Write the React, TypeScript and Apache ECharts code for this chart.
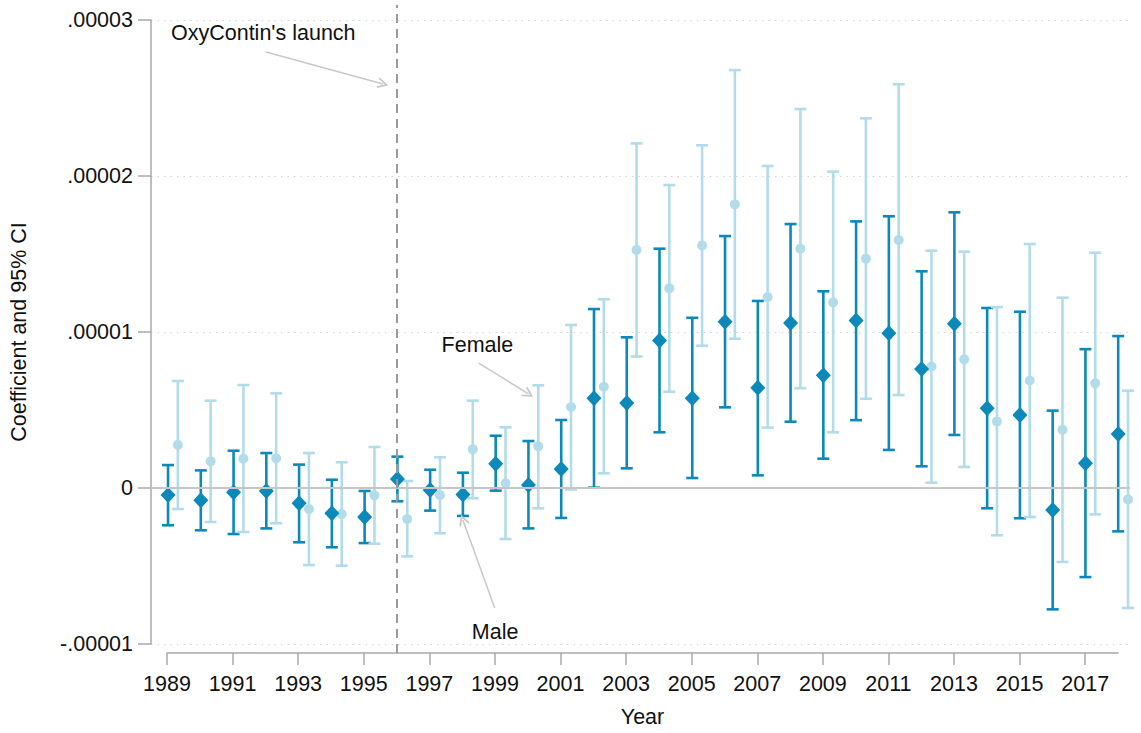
import React, { useEffect, useRef } from "react";
import * as echarts from "echarts";

const YEARS = [1989, 1990, 1991, 1992, 1993, 1994, 1995, 1996, 1997, 1998, 1999, 2000, 2001, 2002, 2003, 2004, 2005, 2006, 2007, 2008, 2009, 2010, 2011, 2012, 2013, 2014, 2015, 2016, 2017, 2018];

const MALE_COEF = [-0.045e-5, -0.079e-5, -0.028e-5, -0.019e-5, -0.098e-5, -0.162e-5, -0.186e-5, 0.058e-5, -0.013e-5, -0.041e-5, 0.156e-5, 0.019e-5, 0.122e-5, 0.575e-5, 0.545e-5, 0.946e-5, 0.575e-5, 1.066e-5, 0.642e-5, 1.058e-5, 0.723e-5, 1.073e-5, 0.992e-5, 0.763e-5, 1.053e-5, 0.511e-5, 0.468e-5, -0.141e-5, 0.158e-5, 0.346e-5];
const MALE_LOW = [-0.239e-5, -0.271e-5, -0.295e-5, -0.259e-5, -0.348e-5, -0.380e-5, -0.353e-5, -0.085e-5, -0.145e-5, -0.179e-5, -0.017e-5, -0.259e-5, -0.192e-5, 0.002e-5, 0.126e-5, 0.357e-5, 0.064e-5, 0.517e-5, 0.081e-5, 0.425e-5, 0.188e-5, 0.435e-5, 0.244e-5, 0.139e-5, 0.340e-5, -0.130e-5, -0.194e-5, -0.778e-5, -0.571e-5, -0.278e-5];
const MALE_HIGH = [0.147e-5, 0.113e-5, 0.239e-5, 0.224e-5, 0.150e-5, 0.053e-5, -0.019e-5, 0.201e-5, 0.117e-5, 0.098e-5, 0.335e-5, 0.301e-5, 0.436e-5, 1.147e-5, 0.966e-5, 1.534e-5, 1.091e-5, 1.615e-5, 1.199e-5, 1.692e-5, 1.261e-5, 1.709e-5, 1.742e-5, 1.389e-5, 1.767e-5, 1.154e-5, 1.130e-5, 0.496e-5, 0.890e-5, 0.974e-5];

const FEMALE_COEF = [0.276e-5, 0.171e-5, 0.188e-5, 0.190e-5, -0.135e-5, -0.167e-5, -0.047e-5, -0.199e-5, -0.046e-5, 0.248e-5, 0.030e-5, 0.267e-5, 0.519e-5, 0.649e-5, 1.526e-5, 1.280e-5, 1.555e-5, 1.818e-5, 1.224e-5, 1.534e-5, 1.190e-5, 1.470e-5, 1.590e-5, 0.779e-5, 0.825e-5, 0.427e-5, 0.689e-5, 0.374e-5, 0.671e-5, -0.073e-5];
const FEMALE_LOW = [-0.135e-5, -0.218e-5, -0.282e-5, -0.226e-5, -0.494e-5, -0.498e-5, -0.357e-5, -0.438e-5, -0.290e-5, -0.066e-5, -0.327e-5, -0.130e-5, -0.009e-5, 0.094e-5, 0.843e-5, 0.617e-5, 0.912e-5, 0.957e-5, 0.387e-5, 0.640e-5, 0.357e-5, 0.572e-5, 0.596e-5, 0.034e-5, 0.135e-5, -0.303e-5, -0.186e-5, -0.474e-5, -0.169e-5, -0.769e-5];
const FEMALE_HIGH = [0.686e-5, 0.560e-5, 0.660e-5, 0.607e-5, 0.224e-5, 0.165e-5, 0.263e-5, 0.045e-5, 0.197e-5, 0.560e-5, 0.389e-5, 0.658e-5, 1.045e-5, 1.210e-5, 2.209e-5, 1.942e-5, 2.197e-5, 2.679e-5, 2.064e-5, 2.429e-5, 2.028e-5, 2.370e-5, 2.588e-5, 1.521e-5, 1.515e-5, 1.160e-5, 1.564e-5, 1.220e-5, 1.508e-5, 0.624e-5];

const FEMALE_OFFSET = 0.3;
const LAUNCH_YEAR = "1996";

const Y_TICK_VALUES = [-0.00001, 0, 0.00001, 0.00002, 0.00003];
const Y_TICK_LABELS = ["-.00001", "0", ".00001", ".00002", ".00003"];
const X_CATEGORIES = YEARS.map(String);

// annotation texts (data coordinates)
const ANNOT_TEXTS = [
  { name: "OxyContin's launch", coord: [1989.09, 2.917e-5] },
  { name: "Female", coord: [1997.35, 0.917e-5] },
  { name: "Male", coord: [1998.27, -0.923e-5] },
];
const ANNOT_ARROWS = [
  [[1991.99, 2.795e-5], [1995.56, 2.59e-5]],
  [[1998.48, 0.801e-5], [2000.0, 0.603e-5]],
  [[1998.97, -0.769e-5], [1998.0, -0.205e-5]],
];

const MALE_COLOR = "#0b89bb";
const FEMALE_COLOR = "#b2dcea";
const AXIS_COLOR = "#a8a8a8";
const TEXT_COLOR = "#111111";
const FONT = "'Liberation Sans', Arial, sans-serif";
const CAP = 6;
const CHEVRON = "path://M5,0L10,9L8.6,9.8L5,3.2L1.4,9.8L0,9Z";

function errorBarRenderer(color: string) {
  return (params: any, api: any) => {
    const x = api.value(0);
    const lo = api.value(1);
    const hi = api.value(2);
    const a = api.coord([x, hi]);
    const b = api.coord([x, lo]);
    const style = { stroke: color, lineWidth: 2.6, fill: null };
    return {
      type: "group",
      children: [
        { type: "line", shape: { x1: a[0], y1: a[1], x2: b[0], y2: b[1] }, style },
        { type: "line", shape: { x1: a[0] - CAP, y1: a[1], x2: a[0] + CAP, y2: a[1] }, style },
        { type: "line", shape: { x1: b[0] - CAP, y1: b[1], x2: b[0] + CAP, y2: b[1] }, style },
      ],
    };
  };
}

export default function App() {
  const ref = useRef<HTMLDivElement>(null);
  useEffect(() => {
    if (!ref.current) return;
    const chart = echarts.init(ref.current, null, { renderer: "svg" });
    const yFormatter = (v: number) => {
      const i = Y_TICK_VALUES.findIndex((t) => Math.abs(t - v) < 1e-10);
      return i >= 0 ? Y_TICK_LABELS[i] : "";
    };
    const option: any = {
      animation: false,
      backgroundColor: "#ffffff",
      textStyle: { fontFamily: FONT },
      grid: [
        { left: 150, right: 11, top: 20, bottom: 89 },
        { left: 167, right: 23, top: 5, bottom: 72 },
      ],
      xAxis: [
        { gridIndex: 0, type: "value", min: 1988.48, max: 2018.36, show: false },
        {
          gridIndex: 1,
          type: "category",
          data: X_CATEGORIES,
          boundaryGap: false,
          axisLine: { show: true, lineStyle: { color: AXIS_COLOR, width: 1.5 } },
          axisTick: { show: true, interval: 1, length: 12, lineStyle: { color: AXIS_COLOR, width: 1.5 } },
          axisLabel: { interval: 1, margin: 20, fontSize: 21.5, color: TEXT_COLOR, fontFamily: FONT },
          splitLine: { show: false },
          name: "Year",
          nameLocation: "middle",
          nameGap: 53,
          nameTextStyle: { fontSize: 21.5, color: TEXT_COLOR, fontFamily: FONT },
        },
      ],
      yAxis: [
        {
          gridIndex: 0,
          type: "value",
          min: -0.00001,
          max: 0.00003,
          interval: 0.00001,
          axisLine: { show: true, lineStyle: { color: AXIS_COLOR, width: 1.5 } },
          axisTick: { show: true, length: 13, lineStyle: { color: AXIS_COLOR, width: 1.5 } },
          axisLabel: { formatter: yFormatter, fontSize: 21.5, margin: 18, color: TEXT_COLOR, fontFamily: FONT },
          splitLine: { show: true, lineStyle: { type: [1.5, 5], color: "#d2d2d2", width: 1.2 } },
          name: "Coefficient and 95% CI",
          nameLocation: "middle",
          nameGap: 121,
          nameTextStyle: { fontSize: 21.5, color: TEXT_COLOR, fontFamily: FONT },
        },
        { gridIndex: 1, type: "value", min: 0, max: 1, show: false },
      ],
      series: [
        {
          type: "line",
          xAxisIndex: 0,
          yAxisIndex: 0,
          data: [],
          z: 1,
          markLine: {
            silent: true,
            symbol: "none",
            label: { show: false },
            lineStyle: { color: "#c6c6c6", type: "solid", width: 2 },
            data: [{ yAxis: 0 }],
          },
        },
        {
          type: "line",
          xAxisIndex: 1,
          yAxisIndex: 1,
          data: [],
          z: 1,
          markLine: {
            silent: true,
            symbol: "none",
            label: { show: false },
            lineStyle: { color: "#9a9a9a", type: [9, 6], width: 2 },
            data: [{ xAxis: LAUNCH_YEAR }],
          },
        },
        {
          name: "Male CI",
          type: "custom",
          xAxisIndex: 0,
          yAxisIndex: 0,
          z: 2,
          encode: { x: 0, y: [1, 2] },
          data: YEARS.map((yr, i) => [yr, MALE_LOW[i], MALE_HIGH[i]]),
          renderItem: errorBarRenderer(MALE_COLOR),
        },
        {
          name: "Female CI",
          type: "custom",
          xAxisIndex: 0,
          yAxisIndex: 0,
          z: 2,
          encode: { x: 0, y: [1, 2] },
          data: YEARS.map((yr, i) => [yr + FEMALE_OFFSET, FEMALE_LOW[i], FEMALE_HIGH[i]]),
          renderItem: errorBarRenderer(FEMALE_COLOR),
        },
        {
          name: "Female",
          type: "scatter",
          xAxisIndex: 0,
          yAxisIndex: 0,
          z: 3,
          symbol: "circle",
          symbolSize: 10,
          itemStyle: { color: FEMALE_COLOR, opacity: 1 },
          data: YEARS.map((yr, i) => [yr + FEMALE_OFFSET, FEMALE_COEF[i]]),
        },
        {
          name: "Male",
          type: "scatter",
          xAxisIndex: 0,
          yAxisIndex: 0,
          z: 4,
          symbol: "diamond",
          symbolSize: [15, 16],
          itemStyle: { color: MALE_COLOR, opacity: 1 },
          data: YEARS.map((yr, i) => [yr, MALE_COEF[i]]),
        },
        {
          type: "line",
          xAxisIndex: 0,
          yAxisIndex: 0,
          data: [],
          z: 5,
          markPoint: {
            silent: true,
            symbol: "rect",
            symbolSize: 0,
            label: {
              show: true,
              position: "right",
              distance: 0,
              fontSize: 21.5,
              color: TEXT_COLOR,
              fontFamily: FONT,
              formatter: (p: any) => p.name,
            },
            data: ANNOT_TEXTS.map((a) => ({ name: a.name, coord: a.coord })),
          },
          markLine: {
            silent: true,
            symbol: ["none", CHEVRON],
            symbolSize: [11, 11],
            label: { show: false },
            lineStyle: { color: "#c8c8c8", type: "solid", width: 1.5 },
            data: ANNOT_ARROWS.map((ar) => [{ coord: ar[0] }, { coord: ar[1] }]),
          },
        },
      ],
    };
    chart.setOption(option);
    return () => chart.dispose();
  }, []);
  return (
    <div
      ref={ref}
      style={{ position: "fixed", left: 0, top: 0, width: 1141, height: 733, background: "#fff" }}
    />
  );
}
